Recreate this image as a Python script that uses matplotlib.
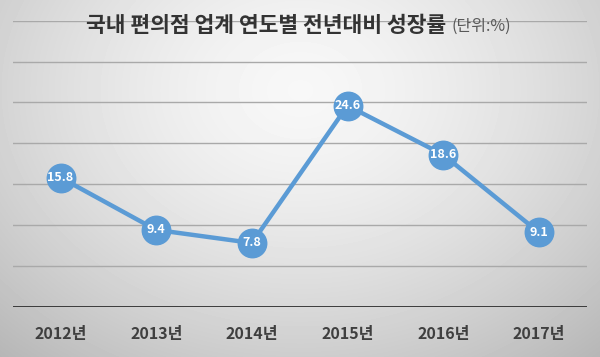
import numpy as np
import matplotlib.pyplot as plt

plt.rcParams['font.family'] = ['Noto Sans CJK KR', 'DejaVu Sans']

# data
years = ['2012년', '2013년', '2014년', '2015년', '2016년', '2017년']
growth = [15.8, 9.4, 7.8, 24.6, 18.6, 9.1]
title_main = '국내 편의점 업계 연도별 전년대비 성장률'
title_unit = '(단위:%)'

blue = '#5b9bd5'

fig = plt.figure(figsize=(6, 3.57), dpi=100)

# gray radial gradient background
bg = fig.add_axes([0, 0, 1, 1], zorder=0)
yy, xx = np.mgrid[0:357, 0:600]
r = np.sqrt(((xx - 300) / 330.0) ** 2 + ((yy - 90) / 260.0) ** 2)
shade = np.clip(0.97 - 0.16 * r ** 1.5, 0, 1)
bg.imshow(shade, cmap='gray', vmin=0, vmax=1, aspect='auto', interpolation='bilinear')
bg.axis('off')

ax = fig.add_axes([12.7 / 600, 50.3 / 357, 574 / 600, 286 / 357], zorder=1)
ax.patch.set_alpha(0)
x = np.arange(len(years))

for v in range(5, 40, 5):
    ax.axhline(v, color='#a9a9a9', lw=1.0, zorder=1)
ax.axhline(0, color='#2e2e2e', lw=2.0, zorder=1)

ax.plot(x, growth, color=blue, lw=3.2, marker='o', ms=20.5,
        markerfacecolor=blue, markeredgecolor=blue, zorder=3)
for xi, v in zip(x, growth):
    ax.text(xi, v, f'{v:.1f}', color='white', fontsize=9, fontweight='bold',
            ha='center', va='center', zorder=4)

ax.set_xlim(-0.5, len(years) - 0.5)
ax.set_ylim(0, 35)
ax.set_yticks([])
ax.set_xticks(x)
ax.set_xticklabels(years, fontsize=11.5, fontweight='bold', color='#3f3f3f')
ax.tick_params(axis='x', length=0, pad=14)
for s in ax.spines.values():
    s.set_visible(False)

# title: bold main part followed by smaller unit text
t1 = fig.text(0.5, 1 - 25 / 357, title_main, fontsize=15.5, fontweight='bold',
              color='#333333', ha='center', va='center')
fig.canvas.draw()
bb = t1.get_window_extent()
shift = 34
t1.set_position(((bb.x0 + bb.width / 2 - shift) / 600, 1 - 25 / 357))
fig.canvas.draw()
bb = t1.get_window_extent()
fig.text((bb.x1 + 5) / 600, 1 - 26 / 357, title_unit, fontsize=11.5,
         color='#595959', ha='left', va='center')

fig.savefig('out.png', dpi=100)
